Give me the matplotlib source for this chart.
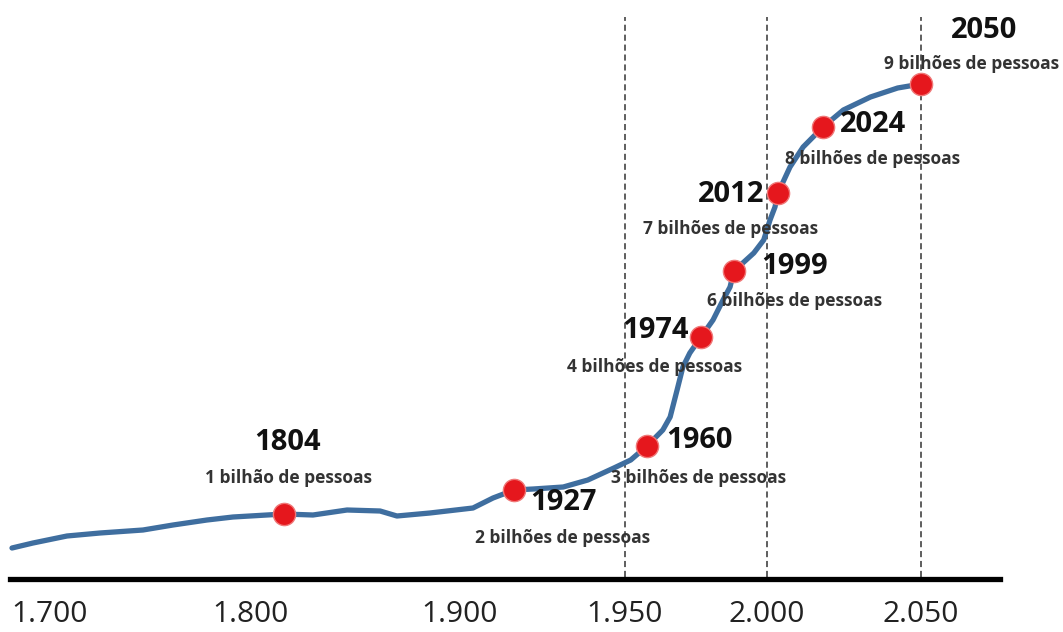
import numpy as np
import matplotlib
matplotlib.use('Agg')
import matplotlib.pyplot as plt

plt.rcParams['font.family'] = ['Open Sans', 'DejaVu Sans']

#population curve (year, relative height)
curve_year = [1681, 1691.5, 1708.5, 1725, 1746.5, 1761.5, 1778.5, 1791.5, 1804,
              1819.8, 1838.4, 1856.4, 1865.6, 1883.6, 1906.5, 1916.5, 1927,
              1931, 1937.2, 1942.3, 1947.7, 1952.6, 1960,
              1964.1, 1966, 1967.8, 1969.3, 1971.1, 1974,
              1983.1, 1990.7, 1996, 1999, 1999.6, 1999.9, 2003.3, 2008.7, 2012,
              2015.2, 2018.7, 2024, 2029.4, 2036.6, 2043.8, 2050]
curve_height = [84, 89, 96, 99, 102, 107, 112, 115, 118,
                117, 122, 121, 116, 119, 124, 134, 142,
                143, 145, 152, 164, 172, 186,
                202, 215, 242, 265, 279, 295,
                312, 332, 345, 361, 379, 392, 412, 425, 439,
                465, 485, 505, 522, 535, 544, 548]

#milestones
mark_year = [1804, 1927, 1960, 1974, 1999, 2012, 2024, 2050]
mark_height = [118, 142, 186, 295, 361, 439, 505, 548]
mark_text = ['1 bilhão de pessoas', '2 bilhões de pessoas', '3 bilhões de pessoas',
             '4 bilhões de pessoas', '6 bilhões de pessoas', '7 bilhões de pessoas',
             '8 bilhões de pessoas', '9 bilhões de pessoas']

tick_year = [1700, 1800, 1900, 1950, 2000, 2050]
tick_text = ['1.700', '1.800', '1.900', '1.950', '2.000', '2.050']
guide_year = [1950, 2000, 2050]

#label placement (pixels from marker): x shift of year / caption, year label y, caption y
lab_dx = [4, 49, 52, -46, 61, -47, 50, 63]
cap_dx = [4, 49, 52, -46, 61, -47, 50, 51]
lab_dy = [71, -13, 5, 7, 5, -1, 2, 53]
cap_dy = [36, -48, -32, -30, -30, -36, -32, 20]

#the time axis of the drawing is not linear -> piecewise scale
anc_year = [1600, 1700, 1800, 1804, 1900, 1927, 1950, 1960, 1974, 1999, 2000, 2012, 2024, 2050, 2100]
anc_px = [-150, 50, 250, 284, 460, 514, 625, 647, 701, 734, 767, 778, 823, 921, 1074]

def fwd(y):
    return np.interp(y, anc_year, anc_px)

def inv(p):
    return np.interp(p, anc_px, anc_year)

colo_line = '#3F6E9F'
colo_dot = '#E5171D'
colo_txt = '#333333'

fig = plt.figure(figsize=(10.63, 6.32), dpi=100)
fig.set_facecolor('white')
ax = fig.add_axes([0, 53/632, 1, 579/632])
ax.set_xscale('function', functions=(fwd, inv))
ax.set_xlim(inv(0), inv(1063))
ax.set_ylim(53, 632)

#dashed guides
ax.vlines(guide_year, 55, 615, colors='#333333', linewidth=1.1, linestyles=(0, (4, 2.5)), zorder=1)

ax.plot(curve_year, curve_height, color=colo_line, linewidth=3.8,
        solid_joinstyle='round', solid_capstyle='round', zorder=2)
ax.plot(mark_year, mark_height, 'o', markersize=16, color=colo_dot,
        markeredgecolor='#F07878', markeredgewidth=1, zorder=3)

for i in range(len(mark_year)):
    ax.annotate(str(mark_year[i]), (mark_year[i], mark_height[i]),
                xytext=(lab_dx[i], lab_dy[i]), textcoords='offset pixels',
                ha='center', va='center', fontsize=21, fontweight='bold', color='#111111', zorder=4)
    ax.annotate(mark_text[i], (mark_year[i], mark_height[i]),
                xytext=(cap_dx[i], cap_dy[i]), textcoords='offset pixels',
                ha='center', va='center', fontsize=12.5, fontweight='bold', color=colo_txt, zorder=4)

#bottom axis
ax.set_xticks(tick_year)
ax.set_xticklabels(tick_text, fontsize=21.5, color='#222222')
ax.tick_params(axis='x', length=0, pad=15)
ax.set_yticks([])
ax.spines['bottom'].set_linewidth(3.8)
ax.spines['bottom'].set_color('black')
ax.spines['bottom'].set_bounds(inv(10), inv(1000))
ax.spines['left'].set_visible(False)
ax.spines['right'].set_visible(False)
ax.spines['top'].set_visible(False)
ax.set_facecolor('white')

plt.savefig('out.png', dpi=100)
